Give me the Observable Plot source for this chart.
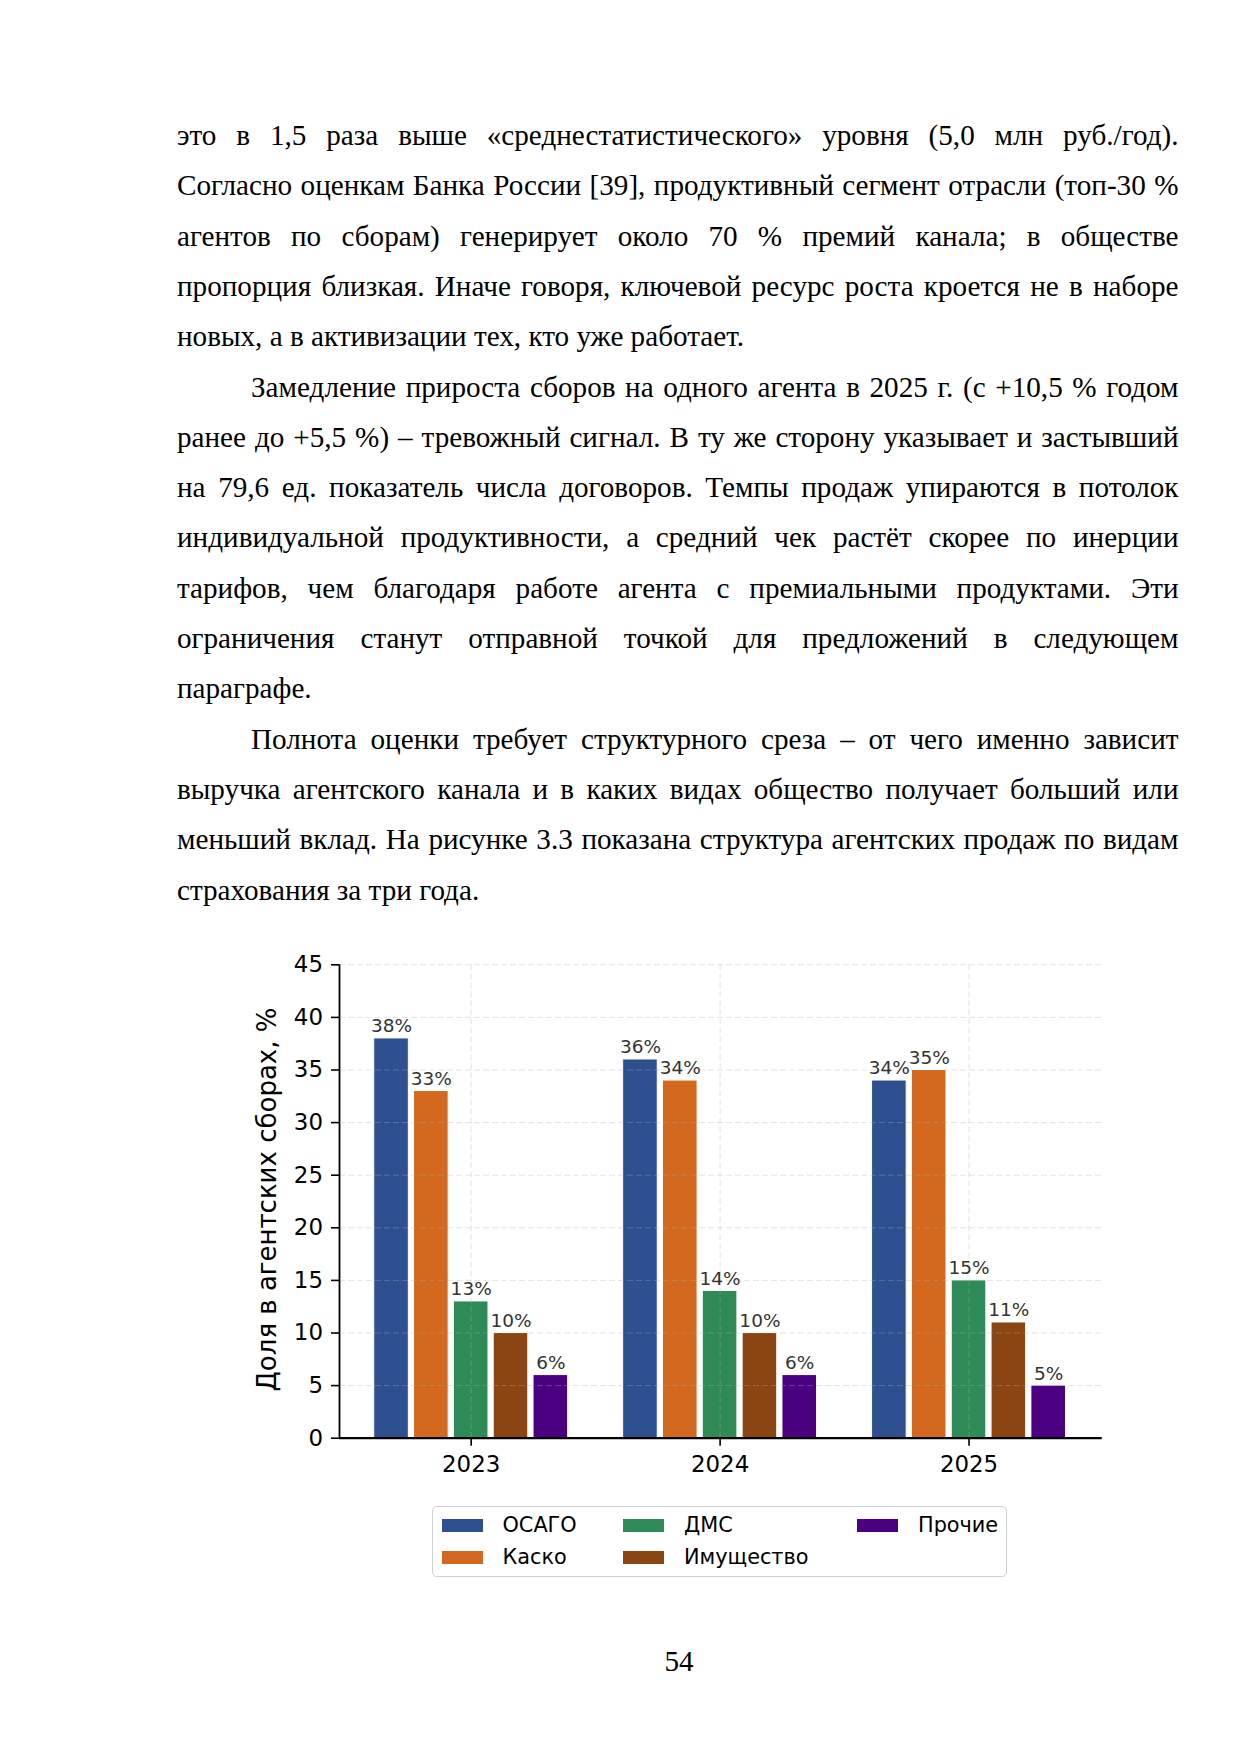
<!DOCTYPE html>
<html lang="ru">
<head>
<meta charset="utf-8">
<script src="https://cdn.jsdelivr.net/npm/d3@7"></script>
<script src="https://cdn.jsdelivr.net/npm/@observablehq/plot@0.6"></script>
<style>
  html, body { margin: 0; padding: 0; background: #fff; }
  #page { position: relative; width: 1241px; height: 1754px; overflow: hidden; background: #fff; }
  .ln { position: absolute; left: 177px; width: 1001.5px; height: 50.3px; line-height: 50.3px;
        font-family: "Liberation Serif", "Times New Roman", serif; font-size: 29.17px; color: #000; }
  .j { text-align: justify; text-align-last: justify; }
  .l { text-align: left; }
  .ind { text-indent: 74px; }
  #chart { position: absolute; left: 230px; top: 940px; }
  #legend { position: absolute; left: 431.5px; top: 1505.5px; width: 573px; height: 69.5px;
            border: 1.5px solid #d0d0d0; border-radius: 5px; font-family: "DejaVu Sans", sans-serif; }
  .it { position: absolute; font-size: 20.8px; line-height: 20.8px; white-space: nowrap; color: #000; }
  .sw { position: absolute; width: 41px; height: 13px; }
  #pnum { position: absolute; left: 579px; width: 200px; top: 1647.3px; text-align: center;
          font-family: "Liberation Serif", "Times New Roman", serif; font-size: 29.17px; line-height: 1; }
</style>
</head>
<body>
<div id="page">
  <div id="text"></div>
  <div id="chart"></div>
  <div id="legend"></div>
  <div id="pnum">54</div>
</div>
<script>
// ---- data ----
const years = ["2023", "2024", "2025"];
const categories = ["ОСАГО", "Каско", "ДМС", "Имущество", "Прочие"];
const values2023 = [38, 33, 13, 10, 6];
const values2024 = [36, 34, 14, 10, 6];
const values2025 = [34, 35, 15, 11, 5];
const colors = ["#2E5090", "#D2691E", "#2E8B57", "#8B4513", "#4B0082"];
const yTicks = [0, 5, 10, 15, 20, 25, 30, 35, 40, 45];
const yLabel = "Доля в агентских сборах, %";

const textLines = [
  ["j", "это в 1,5 раза выше «среднестатистического» уровня (5,0 млн руб./год)."],
  ["j", "Согласно оценкам Банка России [39], продуктивный сегмент отрасли (топ-30 %"],
  ["j", "агентов по сборам) генерирует около 70 % премий канала; в обществе"],
  ["j", "пропорция близкая. Иначе говоря, ключевой ресурс роста кроется не в наборе"],
  ["l", "новых, а в активизации тех, кто уже работает."],
  ["j ind", "Замедление прироста сборов на одного агента в 2025 г. (с +10,5 % годом"],
  ["j", "ранее до +5,5 %) – тревожный сигнал. В ту же сторону указывает и застывший"],
  ["j", "на 79,6 ед. показатель числа договоров. Темпы продаж упираются в потолок"],
  ["j", "индивидуальной продуктивности, а средний чек растёт скорее по инерции"],
  ["j", "тарифов, чем благодаря работе агента с премиальными продуктами. Эти"],
  ["j", "ограничения станут отправной точкой для предложений в следующем"],
  ["l", "параграфе."],
  ["j ind", "Полнота оценки требует структурного среза – от чего именно зависит"],
  ["j", "выручка агентского канала и в каких видах общество получает больший или"],
  ["j", "меньший вклад. На рисунке 3.3 показана структура агентских продаж по видам"],
  ["l", "страхования за три года."]
];

// ---- text ----
const textDiv = document.getElementById("text");
textLines.forEach(([cls, t], i) => {
  const d = document.createElement("div");
  d.className = "ln " + cls;
  d.style.top = (110 + i * 50.3) + "px";
  d.textContent = t;
  textDiv.appendChild(d);
});

// ---- table for the library ----
const seriesByYear = [values2023, values2024, values2025];
const table = years.flatMap((year, yi) =>
  seriesByYear[yi].map((value, cj) => ({ year, yi, cat: categories[cj], cj, value }))
);
const STEP = 0.16;   // distance between neighbouring bars (in group units)
const HALF = 0.0695; // half bar width (in group units)
const center = d => d.yi + (d.cj - (categories.length - 1) / 2) * STEP;

const xDomain = [-0.529, 2.535];

const chart = Plot.plot({
  width: 900,
  height: 550,
  marginLeft: 109,
  marginRight: 28.3,
  marginTop: 24.3,
  marginBottom: 52.3,
  style: { fontFamily: "DejaVu Sans", fontSize: "22.9px", color: "#000", background: "transparent", overflow: "visible" },
  x: { type: "linear", domain: xDomain, nice: false },
  y: { domain: [0, 45], nice: false },
  color: { domain: categories, range: colors },
  marks: [
    Plot.rectY(table, {
      x1: d => center(d) - HALF, x2: d => center(d) + HALF,
      y1: 0, y2: "value", fill: "cat", stroke: "white", strokeWidth: 1
    }),
    Plot.gridY(yTicks, { stroke: "#b0b0b0", strokeOpacity: 0.35, strokeWidth: 1, strokeDasharray: "6,3" }),
    Plot.gridX([0, 1, 2], { stroke: "#b0b0b0", strokeOpacity: 0.35, strokeWidth: 1, strokeDasharray: "6,3" }),
    Plot.text(table, {
      x: center, y: "value", text: d => d.value + "%",
      dy: -12, fontSize: 18.5, fill: "#333", fontFamily: "DejaVu Sans"
    }),
    Plot.axisY(yTicks, { tickSize: 8, tickPadding: 8.5, label: null, strokeWidth: 1.6, fontSize: 22.9 }),
    Plot.axisX([0, 1, 2], { tickFormat: i => years[i], tickSize: 8, tickPadding: 9.5, label: null, strokeWidth: 1.6, fontSize: 22.9 }),
    Plot.ruleX([xDomain[0]], { stroke: "#000", strokeWidth: 1.8 }),
    Plot.ruleY([0], { stroke: "#000", strokeWidth: 2.2 }),
    Plot.text([yLabel], {
      frameAnchor: "left", rotate: -90, dx: -72, dy: -2, textAnchor: "middle",
      fontSize: 26, fill: "#000", fontFamily: "DejaVu Sans"
    })
  ]
});
document.getElementById("chart").appendChild(chart);

// ---- legend (3 columns, filled column by column) ----
const legend = document.getElementById("legend");
const colX = [9, 190.5, 424.5];   // swatch left per column, relative to the legend box
const rowY = [12, 44];            // swatch top per row
categories.forEach((c, j) => {
  const col = Math.floor(j / 2), row = j % 2;
  const sw = document.createElement("div");
  sw.className = "sw";
  sw.style.left = colX[col] + "px";
  sw.style.top = rowY[row] + "px";
  sw.style.background = colors[j];
  legend.appendChild(sw);
  const it = document.createElement("div");
  it.className = "it";
  it.style.left = (colX[col] + 61) + "px";
  it.style.top = (rowY[row] + 6.5 - 10.4) + "px";
  it.textContent = c;
  legend.appendChild(it);
});
</script>
</body>
</html>
